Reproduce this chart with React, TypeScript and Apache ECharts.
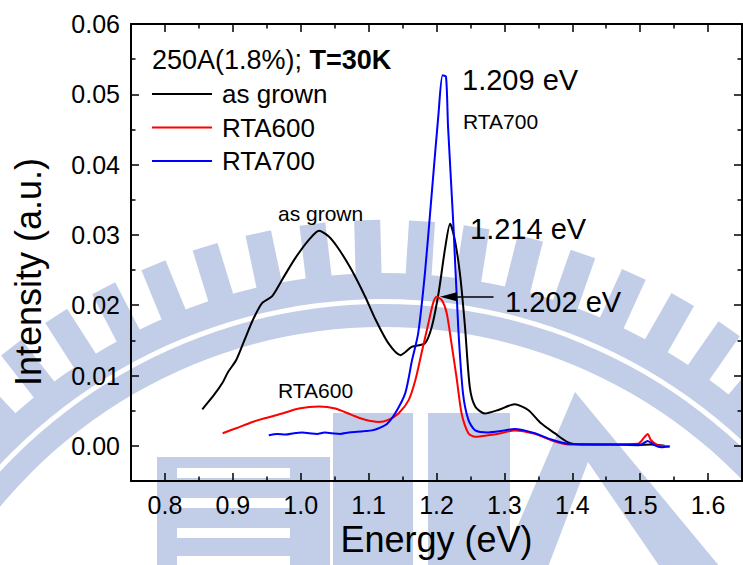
import React, { useEffect, useRef } from 'react';
import * as echarts from 'echarts';

// ---- data ----
const asGrownEnergy = [0.855, 0.872, 0.885, 0.893, 0.905, 0.917, 0.929, 0.943, 0.958, 0.973, 0.992, 1.012, 1.027, 1.041, 1.056, 1.075, 1.095, 1.110, 1.129, 1.147, 1.164, 1.183, 1.193, 1.203, 1.213, 1.220, 1.227, 1.235, 1.242, 1.249, 1.257, 1.271, 1.291, 1.315, 1.335, 1.354, 1.374, 1.394, 1.413, 1.457, 1.497, 1.516, 1.536];
const asGrownIntensity = [0.0052, 0.0072, 0.0090, 0.0105, 0.0122, 0.0150, 0.0178, 0.0203, 0.0213, 0.0237, 0.0267, 0.0293, 0.0306, 0.0298, 0.0280, 0.0250, 0.0212, 0.0180, 0.0146, 0.0129, 0.0141, 0.0146, 0.0169, 0.0217, 0.0283, 0.0316, 0.0293, 0.0241, 0.0169, 0.0084, 0.0056, 0.0046, 0.0051, 0.0059, 0.0051, 0.0032, 0.0018, 0.0005, 0.0002, 0.0002, 0.0001, 0.0002, 0.0000];

const rta600Energy = [0.885, 0.905, 0.929, 0.950, 0.973, 0.997, 1.027, 1.051, 1.075, 1.095, 1.115, 1.129, 1.144, 1.159, 1.169, 1.178, 1.188, 1.195, 1.200, 1.208, 1.215, 1.222, 1.230, 1.237, 1.247, 1.257, 1.276, 1.295, 1.315, 1.345, 1.369, 1.394, 1.457, 1.497, 1.506, 1.511, 1.516, 1.526, 1.544];
const rta600Intensity = [0.0018, 0.0025, 0.0034, 0.0040, 0.0046, 0.0053, 0.0056, 0.0053, 0.0044, 0.0037, 0.0034, 0.0037, 0.0046, 0.0065, 0.0094, 0.0132, 0.0174, 0.0203, 0.0212, 0.0207, 0.0189, 0.0146, 0.0094, 0.0046, 0.0018, 0.0013, 0.0015, 0.0018, 0.0022, 0.0017, 0.0008, 0.0002, 0.0002, 0.0003, 0.0012, 0.0017, 0.0008, 0.0001, -0.0001];

const rta700Energy = [0.953, 0.965, 0.978, 0.990, 1.002, 1.013, 1.024, 1.035, 1.046, 1.058, 1.071, 1.083, 1.095, 1.105, 1.115, 1.127, 1.139, 1.154, 1.164, 1.173, 1.183, 1.193, 1.203, 1.209, 1.214, 1.217, 1.225, 1.232, 1.239, 1.247, 1.257, 1.276, 1.295, 1.315, 1.345, 1.369, 1.394, 1.457, 1.501, 1.511, 1.521, 1.531, 1.543];
const rta700Intensity = [0.0015, 0.0017, 0.0016, 0.0018, 0.0019, 0.0018, 0.0017, 0.0019, 0.0018, 0.0017, 0.0019, 0.0020, 0.0021, 0.0022, 0.0025, 0.0031, 0.0046, 0.0075, 0.0122, 0.0160, 0.0246, 0.0359, 0.0473, 0.0527, 0.0525, 0.0454, 0.0312, 0.0169, 0.0075, 0.0037, 0.0022, 0.0019, 0.0021, 0.0024, 0.0018, 0.0009, 0.0003, 0.0002, 0.0002, 0.0007, 0.0001, -0.0002, -0.0001];

const seriesNames = ['as grown', 'RTA600', 'RTA700'];
const seriesColors = ['#000000', '#ff0000', '#0000ff'];

const xMajorTicks = [0.8, 0.9, 1.0, 1.1, 1.2, 1.3, 1.4, 1.5, 1.6];
const xMinorTicks = [0.85, 0.95, 1.05, 1.15, 1.25, 1.35, 1.45, 1.55];
const yMajorTicks = [0.0, 0.01, 0.02, 0.03, 0.04, 0.05, 0.06];
const yMinorTicks = [0.005, 0.015, 0.025, 0.035, 0.045, 0.055];

const xMin = 0.75;
const xMax = 1.65;
const yMin = -0.005;
const yMax = 0.06;

// annotation arrow (data units)
const arrowTipEnergy = 1.205;
const arrowTailEnergy = 1.284;
const arrowIntensity = 0.0212;

const FONT = "'Liberation Sans', Arial, Helvetica, sans-serif";

const zip = (xs: number[], ys: number[]) => xs.map((x, i) => [x, ys[i]]);

export default function App() {
  const ref = useRef<HTMLDivElement>(null);

  useEffect(() => {
    if (!ref.current) return;
    const chart = echarts.init(ref.current, undefined, { renderer: 'svg' });

    const gridLeft = 131;
    const gridTop = 24;
    const gridWidth = 611;
    const gridHeight = 457;

    const axisLineStyle = { color: '#000', width: 2 };
    const tickStyle = { color: '#000', width: 1.5 };

    const xBase: any = { type: 'value', min: xMin, max: xMax, splitLine: { show: false }, gridIndex: 0 };
    const yBase: any = { type: 'value', min: yMin, max: yMax, splitLine: { show: false }, gridIndex: 0 };

    const labelStyle = { fontSize: 25, fontFamily: FONT, color: '#000' };

    // watermark (light blue emblem behind the plot)
    const W = '#c2cee7';
    const CX = 383;
    const CY = 825;
    const wm: any[] = [];
    wm.push({ type: 'ring', silent: true, z: -10, shape: { cx: CX, cy: CY, r: 552, r0: 526 }, style: { fill: W } });
    wm.push({ type: 'ring', silent: true, z: -10, shape: { cx: CX, cy: CY, r: 521, r0: 498 }, style: { fill: W } });
    for (let k = -13; k <= 13; k++) {
      const th = ((-1.5 + 5.2 * k) * Math.PI) / 180;
      const ux = Math.sin(th);
      const uy = -Math.cos(th);
      const px = Math.cos(th);
      const py = Math.sin(th);
      const hw = 13;
      const r1 = 548;
      const r2 = 605;
      wm.push({
        type: 'polygon',
        silent: true,
        z: -10,
        shape: {
          points: [
            [CX + ux * r1 + px * hw, CY + uy * r1 + py * hw],
            [CX + ux * r2 + px * hw, CY + uy * r2 + py * hw],
            [CX + ux * r2 - px * hw, CY + uy * r2 - py * hw],
            [CX + ux * r1 - px * hw, CY + uy * r1 - py * hw],
          ],
        },
        style: { fill: W },
      });
    }
    wm.push({ type: 'rect', silent: true, z: -10, shape: { x: 157, y: 457, width: 173, height: 110 }, style: { fill: W } });
    [468, 498, 528, 556].forEach((yy) => {
      wm.push({ type: 'rect', silent: true, z: -9, shape: { x: 177, y: yy, width: 113, height: 10 }, style: { fill: '#ffffff' } });
    });
    wm.push({ type: 'rect', silent: true, z: -10, shape: { x: 333, y: 413, width: 80, height: 154 }, style: { fill: W } });
    wm.push({ type: 'rect', silent: true, z: -10, shape: { x: 428, y: 413, width: 82, height: 154 }, style: { fill: W } });
    wm.push({ type: 'polygon', silent: true, z: -10, shape: { points: [[575, 392], [720, 567], [500, 567]] }, style: { fill: W } });
    wm.push({ type: 'polygon', silent: true, z: -9, shape: { points: [[588, 462], [660, 567], [548, 567]] }, style: { fill: '#ffffff' } });

    const texts: any[] = [
      {
        type: 'text', z: 10, x: 152, y: 60,
        style: {
          text: '{n|250A(1.8%); }{b|T=30K}',
          verticalAlign: 'middle', align: 'left',
          rich: {
            n: { fontSize: 27, fontFamily: FONT, fill: '#000' },
            b: { fontSize: 27, fontFamily: FONT, fontWeight: 'bold', fill: '#000' },
          },
        },
      },
      { type: 'text', z: 10, x: 278, y: 213, style: { text: 'as grown', fontSize: 21, fontFamily: FONT, fill: '#000', verticalAlign: 'middle', align: 'left' } },
      { type: 'text', z: 10, x: 278, y: 390, style: { text: 'RTA600', fontSize: 21, fontFamily: FONT, fill: '#000', verticalAlign: 'middle', align: 'left' } },
      { type: 'text', z: 10, x: 463, y: 121, style: { text: 'RTA700', fontSize: 21, fontFamily: FONT, fill: '#000', verticalAlign: 'middle', align: 'left' } },
      { type: 'text', z: 10, x: 462, y: 80, style: { text: '1.209 eV', fontSize: 29, fontFamily: FONT, fill: '#000', verticalAlign: 'middle', align: 'left' } },
      { type: 'text', z: 10, x: 470, y: 229, style: { text: '1.214 eV', fontSize: 29, fontFamily: FONT, fill: '#000', verticalAlign: 'middle', align: 'left' } },
      { type: 'text', z: 10, x: 505, y: 302, style: { text: '1.202 eV', fontSize: 29, fontFamily: FONT, fill: '#000', verticalAlign: 'middle', align: 'left' } },
      {
        type: 'text', z: 10, x: 28, y: 272, rotation: Math.PI / 2,
        style: { text: 'Intensity (a.u.)', fontSize: 36, fontFamily: FONT, fill: '#000', verticalAlign: 'middle', align: 'center' },
      },
    ];

    const values = [
      zip(asGrownEnergy, asGrownIntensity),
      zip(rta600Energy, rta600Intensity),
      zip(rta700Energy, rta700Intensity),
    ];

    const series: any[] = seriesNames.map((name, i) => ({
      name,
      type: 'line',
      xAxisIndex: 0,
      yAxisIndex: 0,
      data: values[i],
      showSymbol: false,
      symbol: 'none',
      smooth: 0.25,
      color: seriesColors[i],
      lineStyle: { color: seriesColors[i], width: 2 },
      z: 3,
    }));
    series[1].markLine = {
      silent: true,
      symbol: ['none', 'none'],
      label: { show: false },
      lineStyle: { color: '#000', width: 1.5, type: 'solid' },
      emphasis: { disabled: true },
      data: [[{ coord: [arrowTipEnergy + 0.01, arrowIntensity] }, { coord: [arrowTailEnergy, arrowIntensity] }]],
    };

    chart.setOption({
      animation: false,
      backgroundColor: '#ffffff',
      grid: { left: gridLeft, top: gridTop, width: gridWidth, height: gridHeight, containLabel: false },
      legend: {
        data: seriesNames,
        orient: 'vertical',
        left: 152,
        top: 81,
        padding: 0,
        itemWidth: 60,
        itemHeight: 2,
        itemGap: 7.5,
        icon: 'rect',
        textStyle: { fontSize: 26, fontFamily: FONT, color: '#000', lineHeight: 26, padding: [0, 0, 0, 5] },
        selectedMode: false,
      },
      xAxis: [
        {
          ...xBase, position: 'bottom',
          axisLine: { show: true, onZero: false, lineStyle: axisLineStyle },
          axisTick: { show: true, inside: true, length: 8, lineStyle: tickStyle, customValues: xMajorTicks },
          axisLabel: { show: true, customValues: xMajorTicks, formatter: (v: number) => v.toFixed(1), margin: 11, ...labelStyle },
          name: 'Energy (eV)', nameLocation: 'middle', nameGap: 40,
          nameTextStyle: { fontSize: 36, fontFamily: FONT, color: '#000' },
        },
        {
          ...xBase, position: 'bottom',
          axisLine: { show: false, onZero: false },
          axisTick: { show: true, inside: true, length: 4.5, lineStyle: tickStyle, customValues: xMinorTicks },
          axisLabel: { show: false },
        },
        {
          ...xBase, position: 'top',
          axisLine: { show: true, onZero: false, lineStyle: axisLineStyle },
          axisTick: { show: true, inside: true, length: 8, lineStyle: tickStyle, customValues: xMajorTicks },
          axisLabel: { show: false },
        },
        {
          ...xBase, position: 'top',
          axisLine: { show: false, onZero: false },
          axisTick: { show: true, inside: true, length: 4.5, lineStyle: tickStyle, customValues: xMinorTicks },
          axisLabel: { show: false },
        },
      ],
      yAxis: [
        {
          ...yBase, position: 'left',
          axisLine: { show: true, onZero: false, lineStyle: axisLineStyle },
          axisTick: { show: true, inside: true, length: 8, lineStyle: tickStyle, customValues: yMajorTicks },
          axisLabel: { show: true, customValues: yMajorTicks, formatter: (v: number) => v.toFixed(2), margin: 11, ...labelStyle },
        },
        {
          ...yBase, position: 'left',
          axisLine: { show: false, onZero: false },
          axisTick: { show: true, inside: true, length: 4.5, lineStyle: tickStyle, customValues: yMinorTicks },
          axisLabel: { show: false },
        },
        {
          ...yBase, position: 'right',
          axisLine: { show: true, onZero: false, lineStyle: axisLineStyle },
          axisTick: { show: true, inside: true, length: 8, lineStyle: tickStyle, customValues: yMajorTicks },
          axisLabel: { show: false },
        },
        {
          ...yBase, position: 'right',
          axisLine: { show: false, onZero: false },
          axisTick: { show: true, inside: true, length: 4.5, lineStyle: tickStyle, customValues: yMinorTicks },
          axisLabel: { show: false },
        },
      ],
      graphic: { elements: [...wm, ...texts] },
      series,
    });

    // arrowhead placed through the chart's own coordinate conversion
    const tip = chart.convertToPixel({ xAxisIndex: 0, yAxisIndex: 0 }, [arrowTipEnergy, arrowIntensity]) as number[];
    if (tip && isFinite(tip[0]) && isFinite(tip[1])) {
      const arrowHead = {
        type: 'polygon',
        z: 10,
        silent: true,
        shape: {
          points: [
            [tip[0], tip[1]],
            [tip[0] + 17, tip[1] - 4.5],
            [tip[0] + 17, tip[1] + 4.5],
          ],
        },
        style: { fill: '#000' },
      };
      chart.setOption({ graphic: { elements: [...wm, ...texts, arrowHead] } });
    }

    return () => {
      chart.dispose();
    };
  }, []);

  return (
    <div
      ref={ref}
      style={{ width: 743, height: 565, position: 'absolute', left: 0, top: 0, background: '#fff' }}
    />
  );
}
